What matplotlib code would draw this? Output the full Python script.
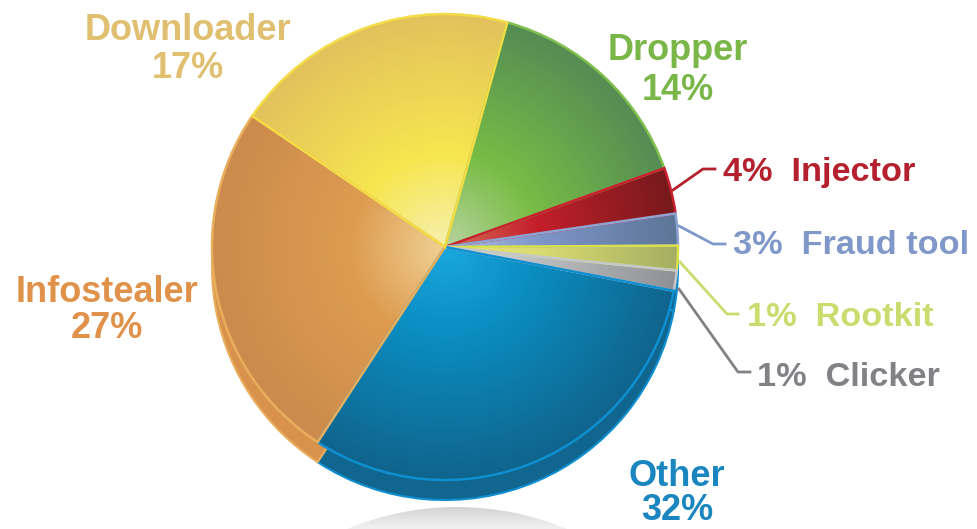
import matplotlib

matplotlib.use("Agg")
import matplotlib.pyplot as plt
import numpy as np
from matplotlib.colors import to_rgb
from matplotlib.patches import Circle

W, H = 977, 529
CX, CY, RADIUS = 445, 529 - 247, 233
DEPTH = 20
START_ANGLE = 74.5

# shares as drawn in the picture, the printed percentages differ a little
names = ["Dropper", "Injector", "Fraud tool", "Rootkit", "Clicker", "Other", "Infostealer", "Downloader"]
drawn_shares = [15.2, 3.2, 2.2, 1.7, 1.4, 31.2, 25.3, 19.8]
percent_labels = ["14%", "4%", "3%", "1%", "1%", "32%", "27%", "17%"]

# center, middle, outer colour for each slice
gradients = [
    ("#b9d3a0", "#78bd45", "#558c54"),
    ("#d9705a", "#c41f2b", "#761a1c"),
    ("#b0bfe0", "#7f96c9", "#5d7596"),
    ("#ece27a", "#d9dc70", "#a5ad62"),
    ("#e2e3e4", "#bcbdc0", "#8f9196"),
    ("#1aa8e0", "#0a8cbf", "#10648c"),
    ("#f0d295", "#dd9c50", "#cc8a4c"),
    ("#f6f0b0", "#f7e64f", "#e2c15c"),
]
edges = ["#7fbf4d", "#c8202e", "#8ea4d2", "#d8e04c", "#c4c8cc", "#0f8fd0", "#e9ae5c", "#f3dc45"]
rims = ["#558c54", "#761a1c", "#5d7596", "#10668f", "#10668f", "#10668f", "#d8924c", "#e2c15c"]
rim_edges = ["#7fbf4d", "#c8202e", "#8ea4d2", "#0f8fd0", "#0f8fd0", "#0f8fd0", "#e9ae5c", "#f3dc45"]
text_colors = {
    "Dropper": "#7ab648",
    "Injector": "#b5202e",
    "Fraud tool": "#7f98c9",
    "Rootkit": "#c9dc6e",
    "Clicker": "#808285",
    "Other": "#1a86c0",
    "Infostealer": "#e0914a",
    "Downloader": "#e0c070",
}

# (name, percent, x, y of the two stacked lines)
stacked_labels = [
    ("Downloader", "17%", 188, 31, 68),
    ("Dropper", "14%", 678, 50, 90),
    ("Infostealer", "27%", 107, 292, 329),
    ("Other", "32%", 677, 476, 511),
]
# (name, percent, left x, y)
side_labels = [
    ("Injector", "4%", 723, 172),
    ("Fraud tool", "3%", 733, 246),
    ("Rootkit", "1%", 747, 317),
    ("Clicker", "1%", 757, 378),
]
leaders = {
    "Injector": ([673, 703, 715], [190, 169, 169]),
    "Fraud tool": ([679, 713, 725], [226, 244, 244]),
    "Rootkit": ([680, 727, 738], [262, 314, 314]),
    "Clicker": ([679, 738, 750], [289, 372, 372]),
}


def radial_image(colors):
    # rgb image of the slice colour by distance from the pie center
    xs, ys = np.meshgrid(np.arange(W) + 0.5, np.arange(H) + 0.5)
    dist = np.hypot(xs - CX, ys - CY) / RADIUS
    stops = [0.0, 0.4, 1.0]
    rgb = np.array([to_rgb(c) for c in colors])
    return np.dstack([np.interp(dist, stops, rgb[:, i]) for i in range(3)])


plt.rcParams["font.family"] = ["Liberation Sans", "DejaVu Sans"]
fig = plt.figure(figsize=(W / 100, H / 100), dpi=100, facecolor="white")
ax = fig.add_axes([0, 0, 1, 1])

# floor shadow under the pie
xs, ys = np.meshgrid(np.arange(W) + 0.5, np.arange(H) + 0.5)
fade = np.clip((ys - 2) / 22, 0, 1)
shadow_img = np.dstack([0.82 + 0.12 * (1 - fade)] * 3)
shadow = ax.imshow(shadow_img, extent=(0, W, 0, H), origin="lower", zorder=0)
shadow_patch = Circle((457, 529 - 793), 286, transform=ax.transData, fc="none", ec="none")
ax.add_patch(shadow_patch)
shadow.set_clip_path(shadow_patch)

# side wall, same slices pushed down
side, _ = ax.pie(
    drawn_shares, center=(CX, CY - DEPTH), radius=RADIUS, startangle=START_ANGLE,
    counterclock=False, colors=rims, frame=True,
)
for w, c in zip(side, rim_edges):
    w.set_edgecolor(c)
    w.set_linewidth(1.5)
    w.set_zorder(1)

top, _ = ax.pie(
    drawn_shares, center=(CX, CY), radius=RADIUS, startangle=START_ANGLE,
    counterclock=False, colors=["none"] * len(names), frame=True,
)
for i, w in enumerate(top):
    w.set_zorder(3)
    w.set_edgecolor(edges[i])
    w.set_linewidth(1.8)
    img = ax.imshow(radial_image(gradients[i]), extent=(0, W, 0, H), origin="lower", zorder=2)
    img.set_clip_path(w)

for name, (lx, ly) in leaders.items():
    ax.plot(lx, [529 - v for v in ly], color=text_colors[name], lw=2, zorder=4, solid_joinstyle="round")

for name, pct, x, y1, y2 in stacked_labels:
    ax.text(x, 529 - y1, name, color=text_colors[name], fontsize=26, fontweight="bold", ha="center", va="center")
    ax.text(x, 529 - y2, pct, color=text_colors[name], fontsize=26, fontweight="bold", ha="center", va="center")

for name, pct, x, y in side_labels:
    ax.text(x, 529 - y, f"{pct}  {name}", color=text_colors[name], fontsize=24.7, fontweight="bold", ha="left", va="center")

ax.set_xlim(0, W)
ax.set_ylim(0, H)
ax.set_aspect("auto")
ax.axis("off")

fig.savefig("out.png", dpi=100, facecolor="white")
plt.close(fig)
